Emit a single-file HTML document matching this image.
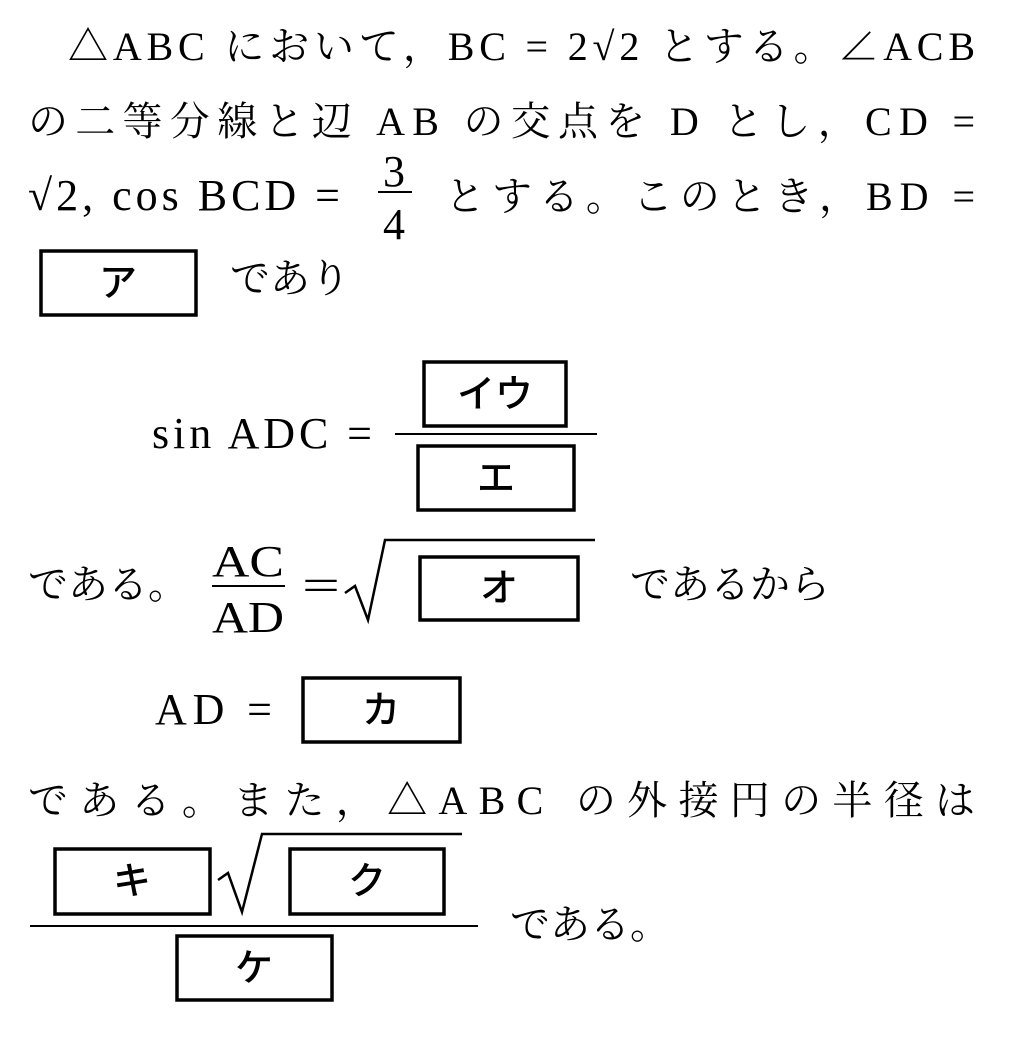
<!DOCTYPE html>
<html><head><meta charset="utf-8"><style>
html,body{margin:0;padding:0;background:#fff;}
svg{display:block}
.t{font-family:"Liberation Serif","Noto Serif CJK JP",serif;font-size:40px;fill:#000}
.m{font-family:"Liberation Serif","Noto Serif CJK JP",serif;font-size:44px;fill:#000}
.k{font-family:"Liberation Sans","Noto Sans CJK JP",sans-serif;font-size:38px;font-weight:500;fill:#000}
.b{fill:none;stroke:#000;stroke-width:3.5}
</style></head><body>
<svg width="1020" height="1050" viewBox="0 0 1020 1050" xmlns="http://www.w3.org/2000/svg">
<text class="t" x="68" y="60" textLength="907" lengthAdjust="spacing">△ABC において，BC = 2√2 とする。∠ACB</text>
<text class="t" x="28" y="135" textLength="947" lengthAdjust="spacing">の二等分線と辺 AB の交点を D とし，CD =</text>
<text class="m" x="28" y="210" textLength="312" lengthAdjust="spacing">√2, cos BCD  =</text>
<text class="m" x="383" y="186">3</text>
<line x1="378" y1="192" x2="412" y2="192" stroke="#000" stroke-width="2"/>
<text class="m" x="383" y="239">4</text>
<text class="t" x="445" y="210" textLength="530" lengthAdjust="spacing">とする。このとき，BD =</text>
<rect class="b" x="41" y="251" width="155" height="64"/>
<text class="k" x="118" y="296" text-anchor="middle">ア</text>
<text class="t" x="230" y="292">であり</text>

<text class="m" x="152" y="448" textLength="220" lengthAdjust="spacing">sin ADC  =</text>
<line x1="395" y1="434" x2="597" y2="434" stroke="#000" stroke-width="2"/>
<rect class="b" x="424" y="362" width="142" height="64"/>
<text class="k" x="495" y="407" text-anchor="middle">イウ</text>
<rect class="b" x="418" y="446" width="156" height="64"/>
<text class="k" x="496" y="491" text-anchor="middle">エ</text>

<text class="t" x="28" y="598">である。</text>
<text class="m" x="212" y="576" textLength="72" lengthAdjust="spacingAndGlyphs">AC</text>
<line x1="212" y1="586" x2="285" y2="586" stroke="#000" stroke-width="2"/>
<text class="m" x="212" y="632" textLength="72" lengthAdjust="spacingAndGlyphs">AD</text>
<text class="m" x="302" y="600" textLength="38" lengthAdjust="spacingAndGlyphs">=</text>
<path d="M345 593 L355 586 L368 620 L385 540 L595 540" fill="none" stroke="#000" stroke-width="2.5"/>
<rect class="b" x="420" y="557" width="158" height="63"/>
<text class="k" x="499" y="601" text-anchor="middle">オ</text>
<text class="t" x="630" y="598">であるから</text>

<text class="m" x="155" y="724" textLength="117" lengthAdjust="spacing">AD  =</text>
<rect class="b" x="303" y="678" width="157" height="64"/>
<text class="k" x="381" y="723" text-anchor="middle">カ</text>

<text class="t" x="28" y="814" textLength="947" lengthAdjust="spacing">である。また，△ABC の外接円の半径は</text>
<rect class="b" x="55" y="849" width="155" height="65"/>
<text class="k" x="132" y="894" text-anchor="middle">キ</text>
<path d="M218 880 L228 873 L242 912 L262 834 L462 834" fill="none" stroke="#000" stroke-width="2.5"/>
<rect class="b" x="290" y="849" width="154" height="65"/>
<text class="k" x="367" y="894" text-anchor="middle">ク</text>
<line x1="30" y1="926" x2="478" y2="926" stroke="#000" stroke-width="2"/>
<rect class="b" x="177" y="936" width="155" height="64"/>
<text class="k" x="254" y="981" text-anchor="middle">ケ</text>
<text class="t" x="510" y="938">である。</text>
</svg>
</body></html>
